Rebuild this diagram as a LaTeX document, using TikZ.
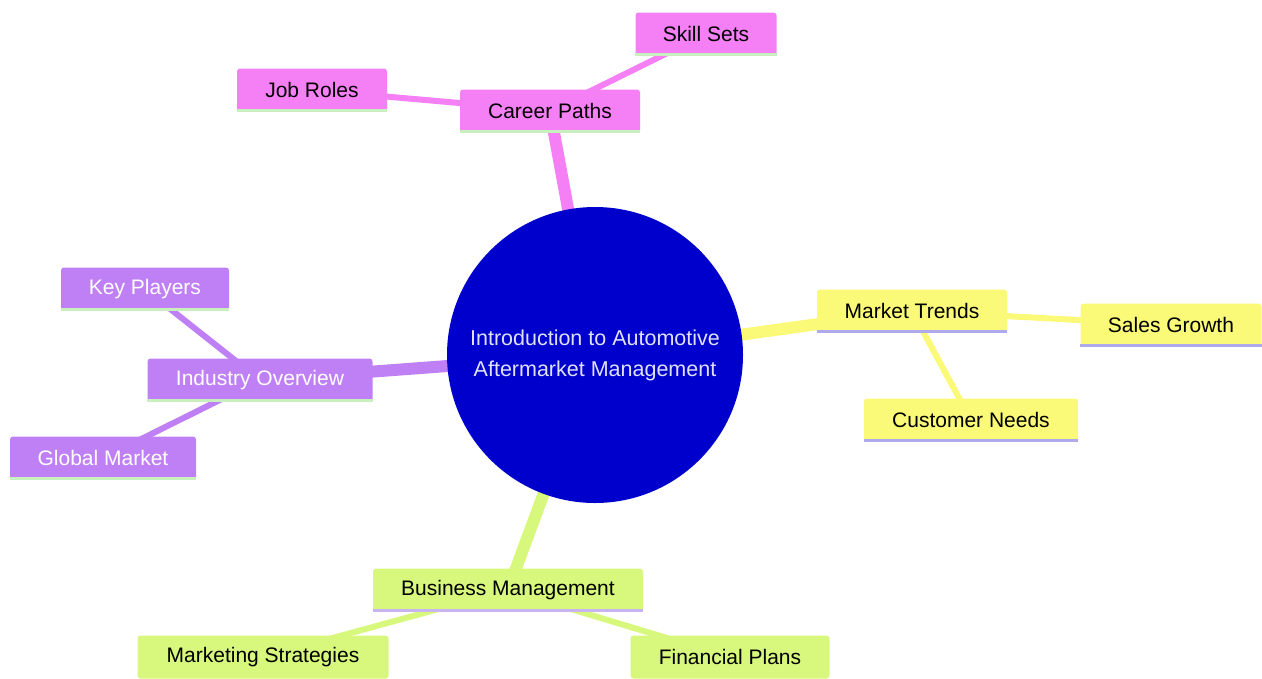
\documentclass[tikz,border=0pt]{standalone}
\usepackage{fontspec}
\setmainfont{Liberation Sans}
\usetikzlibrary{backgrounds}
\definecolor{rootblue}{RGB}{0,0,204}
\definecolor{pinkc}{RGB}{245,128,245}
\definecolor{purplec}{RGB}{192,128,245}
\definecolor{yellowc}{RGB}{250,250,120}
\definecolor{greenc}{RGB}{215,248,125}
\definecolor{shgreen}{RGB}{200,240,190}
\definecolor{shblue}{RGB}{175,170,235}
\definecolor{shpurple}{RGB}{200,180,240}
\tikzset{
  box/.style={rectangle, rounded corners=3pt, minimum height=43pt, inner sep=0pt, font=\fontsize{21}{24}\selectfont},
  pinkbox/.style={box, fill=pinkc, text=black},
  purplebox/.style={box, fill=purplec, text=white},
  yellowbox/.style={box, fill=yellowc, text=black},
  greenbox/.style={box, fill=greenc, text=black},
  mainedge/.style={line width=12pt},
  subedge/.style={line width=6pt},
}
\newcommand{\shadowline}[2]{\fill[#1] ([yshift=-0.5pt]#2.south west) rectangle ([yshift=3pt]#2.south east);}
\begin{document}
\begin{tikzpicture}[x=1pt,y=-1pt]
\useasboundingbox (0,0) rectangle (1262,678);
% root
\node[circle, fill=rootblue, minimum size=296pt, inner sep=0pt, text=white!88!rootblue, align=center,
      font=\fontsize{21.5}{31}\selectfont] (root) at (595,355) {Introduction to Automotive\\Aftermarket Management};
% career paths
\node[pinkbox, minimum width=180pt] (cp) at (550,111) {Career Paths};
\node[pinkbox, minimum width=141pt] (ss) at (706,34) {Skill Sets};
\node[pinkbox, minimum width=150pt] (jr) at (312,90) {Job Roles};
% industry overview
\node[purplebox, minimum width=225pt] (io) at (260,380) {Industry Overview};
\node[purplebox, minimum width=168pt] (kp) at (145,289) {Key Players};
\node[purplebox, minimum width=186pt] (gm) at (103,458) {Global Market};
% market trends
\node[yellowbox, minimum width=190pt] (mt) at (912,311) {Market Trends};
\node[yellowbox, minimum width=181pt] (sg) at (1171,325) {Sales Growth};
\node[yellowbox, minimum width=214pt] (cn) at (971,420) {Customer Needs};
% business management
\node[greenbox, minimum width=270pt] (bm) at (508,590) {Business Management};
\node[greenbox, minimum width=251pt] (ms) at (263,657) {Marketing Strategies};
\node[greenbox, minimum width=199pt] (fp) at (730,657) {Financial Plans};
% shadows
\shadowline{shgreen}{cp}
\shadowline{shgreen}{ss}
\shadowline{shgreen}{jr}
\shadowline{shgreen}{io}
\shadowline{shgreen}{kp}
\shadowline{shgreen}{gm}
\shadowline{shblue}{mt}
\shadowline{shblue}{sg}
\shadowline{shblue}{cn}
\shadowline{shpurple}{bm}
\begin{scope}[on background layer]
  \draw[pinkc, mainedge] (root.center) -- (cp.center);
  \draw[purplec, mainedge] (root.center) -- (io.center);
  \draw[yellowc, mainedge] (root.center) -- (mt.center);
  \draw[greenc, mainedge] (root.center) -- (bm.center);
  \draw[pinkc, subedge] (cp.center) -- (ss.center);
  \draw[pinkc, subedge] (cp.center) -- (jr.center);
  \draw[purplec, subedge] (io.center) -- (kp.center);
  \draw[purplec, subedge] (io.center) -- (gm.center);
  \draw[yellowc, subedge] (mt.center) -- (sg.center);
  \draw[yellowc, subedge] (mt.center) -- (cn.center);
  \draw[greenc, subedge] (bm.center) -- (ms.center);
  \draw[greenc, subedge] (bm.center) -- (fp.center);
\end{scope}
\end{tikzpicture}
\end{document}
